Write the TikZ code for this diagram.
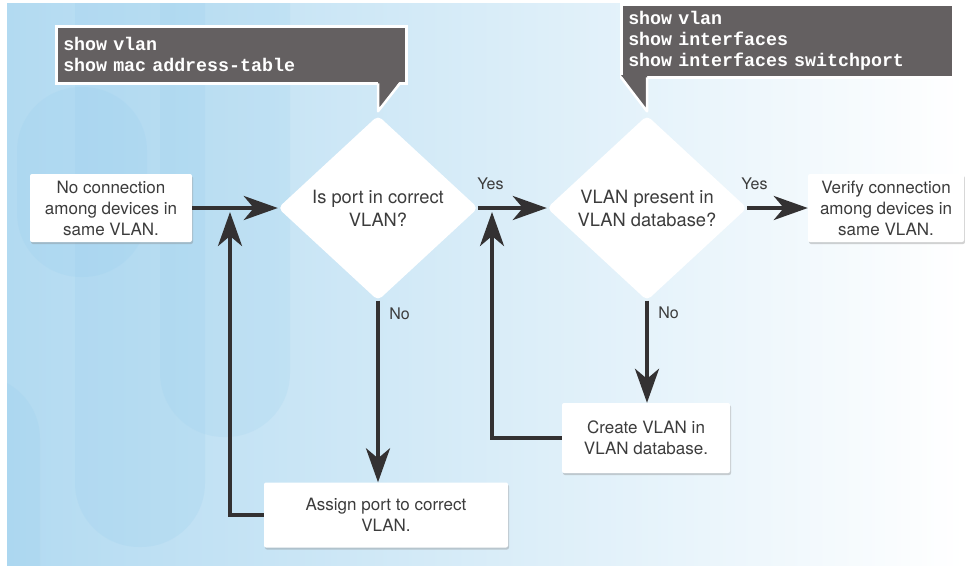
\documentclass[tikz,border=0pt]{standalone}
\usepackage{fontspec}
\setmainfont{TeX Gyre Heros}
\setmonofont{Liberation Mono}
\usetikzlibrary{shapes.geometric,arrows.meta,shadows}
\definecolor{bgblue}{HTML}{B2DAF1}
\definecolor{pillblue}{HTML}{9ACFEE}
\definecolor{cmdgray}{HTML}{646061}
\definecolor{flowline}{HTML}{333132}
\definecolor{txtgray}{HTML}{3C3C3C}

\begin{document}
\begin{tikzpicture}[x=1pt,y=-1pt,
  box/.style={rectangle,fill=white,rounded corners=2pt,align=center,text=txtgray,
    font=\fontsize{17}{21}\selectfont,
    drop shadow={shadow xshift=1pt,shadow yshift=-2pt,opacity=.35}},
  decision/.style={diamond,fill=white,rounded corners=5pt,align=center,text=txtgray,
    minimum width=200pt,minimum height=185pt,inner sep=0pt,
    font=\fontsize{18.3}{23}\selectfont},
  cmd/.style={rectangle,fill=cmdgray,draw=white,line width=2.5pt,text=white,
    anchor=north west,align=left,inner sep=7pt,
    font=\ttfamily\bfseries\fontsize{18.3}{21}\selectfont},
  flow/.style={flowline,line width=4pt,
    -{Stealth[length=34pt,width=24pt,inset=10pt]}},
  answer/.style={text=txtgray,font=\fontsize{16}{18}\selectfont}]
  \useasboundingbox (0,0) rectangle (965,566);

  % background
  \shade[left color=bgblue,middle color=bgblue!55!white,right color=white]
    (7,3) rectangle (965,565);
  \begin{scope}
    \clip (7,3) rectangle (965,565);
    \fill[pillblue,opacity=.22,rounded corners=64pt] (17,87) rectangle (147,277);
    \fill[pillblue,opacity=.22,rounded corners=64pt] (75,-200) rectangle (205,547);
    \fill[pillblue,opacity=.18,rounded corners=64pt] (160,-200) rectangle (290,437);
    \fill[pillblue,opacity=.22,rounded corners=64pt] (-90,375) rectangle (40,700);
  \end{scope}

  % flow chart
  \node[box,minimum width=162pt,minimum height=68pt] (nolink) at (111,208)
    {No connection\\among devices in\\same VLAN.};
  \node[decision] (portq) at (378,208) {Is port in correct\\VLAN?};
  \node[decision] (vlanq) at (647,208) {VLAN present in\\VLAN database?};
  \node[box,minimum width=156pt,minimum height=68pt] (verify) at (886,208)
    {Verify connection\\among devices in\\same VLAN.};
  \node[box,minimum width=168pt,minimum height=70pt] (create) at (646,438)
    {Create VLAN in\\VLAN database.};
  \node[box,minimum width=244pt,minimum height=65pt] (assign) at (386,515)
    {Assign port to correct\\VLAN.};
  \coordinate (backA) at (230,212);
  \coordinate (backB) at (492,212);

  \path[flow]
    (nolink) edge (portq)
    (portq) edge node[answer,pos=.18,above=13pt] {Yes} (vlanq)
    (vlanq) edge node[answer,pos=.12,above=13pt] {Yes} (verify)
    (portq.south) edge node[answer,pos=.07,right=6pt] {No} (portq.south |- assign.north)
    (vlanq.south) edge node[answer,pos=.12,right=6pt] {No} (vlanq.south |- create.north);
  \draw[flow] (assign.west) -| (backA);
  \draw[flow] (create.west) -| (backB);

  % command callouts
  \node[cmd,text width=336pt,minimum height=57pt] (cmdA) at (55,25)
    {show vlan\\show mac address-table};
  \node[cmd,text width=318pt,minimum height=72pt] (cmdB) at (620,3)
    {show vlan\\show interfaces\\show interfaces switchport};
  \coordinate (tipA) at ([yshift=4pt]portq.north);
  \coordinate (tipB) at ([yshift=4pt]vlanq.north);
  \coordinate (baseA) at (cmdA.south -| tipA);
  \coordinate (baseB) at (cmdB.south -| tipB);
  \fill[cmdgray] ([yshift=3.5pt]baseA) -- (tipA) -- ([xshift=22pt,yshift=3.5pt]baseA) -- cycle;
  \draw[white,line width=2.5pt,line join=round]
    ([yshift=1.25pt]baseA) -- (tipA) -- ([xshift=22pt,yshift=1.25pt]baseA);
  \fill[cmdgray] ([yshift=3.5pt]baseB) -- (tipB) -- ([xshift=-26pt,yshift=3.5pt]baseB) -- cycle;
  \draw[white,line width=2.5pt,line join=round]
    ([yshift=1.25pt]baseB) -- (tipB) -- ([xshift=-26pt,yshift=1.25pt]baseB);
\end{tikzpicture}
\end{document}
